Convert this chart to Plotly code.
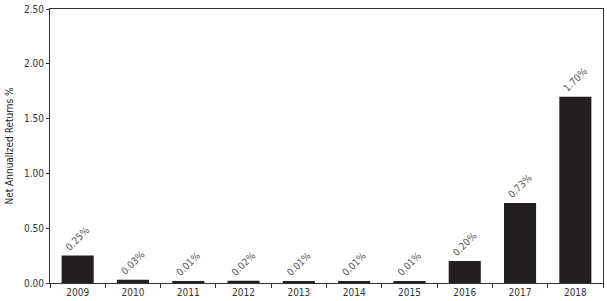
import plotly.graph_objects as go

years = ["2009", "2010", "2011", "2012", "2013", "2014", "2015", "2016", "2017", "2018"]
returns = [0.25, 0.03, 0.01, 0.02, 0.01, 0.01, 0.01, 0.20, 0.73, 1.70]
labels = [f"{v:.2f}%" for v in returns]
y_ticks = [0, 0.5, 1.0, 1.5, 2.0, 2.5]

font_family = "DejaVu Sans Condensed, Liberation Sans Narrow, Roboto, sans-serif"

fig = go.Figure(go.Bar(
    x=years, y=returns, text=labels, textposition="outside", textangle=-45,
    textfont=dict(size=10, color="#555555", family=font_family),
    marker=dict(color="#231f20", line=dict(width=0)),
    cliponaxis=False,
))

fig.update_layout(
    width=607, height=301,
    margin=dict(l=50, r=3, t=6, b=17),
    paper_bgcolor="white", plot_bgcolor="white",
    bargap=0.42,
    showlegend=False,
    font=dict(family=font_family, size=10, color="#333333"),
    uniformtext=dict(minsize=10, mode=False),
)
fig.update_xaxes(
    type="category", showgrid=False, showline=True, linecolor="#333333", linewidth=1,
    mirror=True, ticks="outside", tickson="boundaries", ticklen=4, tickcolor="#333333",
    tickfont=dict(size=10, color="#333333"),
)
fig.update_yaxes(
    range=[0, 2.5], tickvals=y_ticks, tickformat=".2f", showgrid=False, zeroline=False,
    showline=True, linecolor="#333333", linewidth=1, mirror=True,
    ticks="outside", ticklen=3, tickcolor="#333333",
    tickfont=dict(size=10, color="#333333"),
    title=dict(text="Net Annualized Returns %", font=dict(size=10, color="#222222"), standoff=8),
)

fig.write_html("out.html")
